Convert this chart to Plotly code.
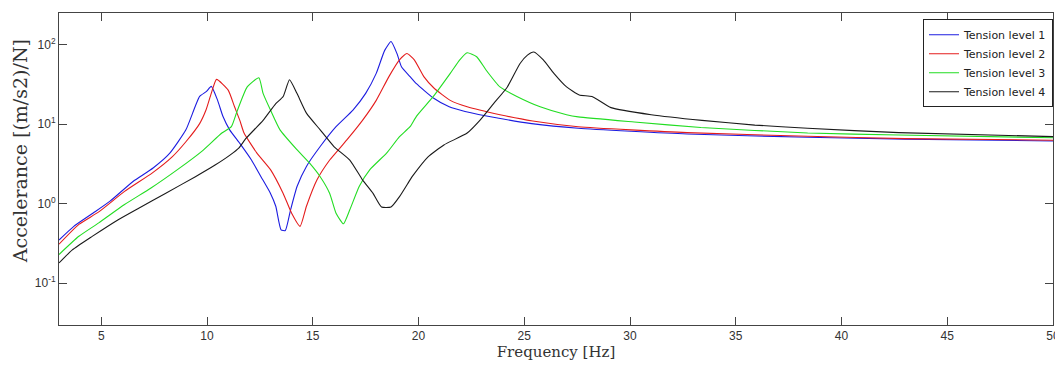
import plotly.graph_objects as go

# ---- data ----
f1 = [3.0, 3.7, 4.6, 5.4, 6.5, 7.45, 8.24, 9.0, 9.65, 9.96, 10.2, 10.5, 10.75, 11.07, 11.55,
      12.1, 12.55, 13.0, 13.25, 13.5, 13.7, 13.95, 14.26, 14.7, 15.35, 16.1, 16.9, 17.5, 18.0,
      18.4, 18.7, 18.98, 19.2, 19.6, 19.9, 20.7, 21.45, 22.2, 23.8, 25.35, 27.55, 32.7, 38.4,
      43.0, 50.0]
v1 = [0.35, 0.52, 0.76, 1.07, 1.91, 2.82, 4.33, 8.51, 22.4, 25.7, 30.0, 20.0, 12.6, 8.51, 5.75,
      3.55, 2.19, 1.35, 0.93, 0.47, 0.46, 0.84, 1.66, 2.95, 5.25, 9.33, 15.1, 24.5, 43.7,
      85.1, 110.0, 77.6, 52.5, 39.8, 32.4, 21.4, 16.6, 14.5, 11.9, 10.2, 8.91, 7.55, 6.87,
      6.5, 6.17]

f2 = [3.0, 3.94, 4.88, 6.1, 7.4, 8.35, 9.0, 9.65, 9.95, 10.2, 10.45, 11.0, 11.3, 11.55, 11.75,
      12.35, 13.0, 13.6, 14.0, 14.4, 14.7, 15.2, 15.8, 16.6, 17.35, 18.0, 18.6, 19.1, 19.45,
      19.8, 20.25, 20.75, 21.5, 22.3, 23.85, 25.4, 27.55, 32.7, 38.4, 43.0, 50.0]
v2 = [0.31, 0.55, 0.79, 1.43, 2.43, 3.89, 6.03, 10.2, 15.1, 24.5, 36.7, 26.9, 16.6, 11.2, 7.76,
      4.37, 2.69, 1.35, 0.76, 0.52, 0.93, 2.0, 3.55, 6.31, 11.2, 20.0, 39.8, 64.6, 77.6,
      64.6, 39.8, 28.2, 20.0, 16.6, 13.2, 11.0, 9.33, 7.85, 7.08, 6.6, 6.31]

f3 = [3.0, 3.94, 4.88, 6.1, 7.35, 8.6, 9.75, 10.7, 11.15, 11.4, 11.9, 12.45, 12.65, 13.0, 13.45,
      14.25, 14.85, 15.35, 15.8, 16.1, 16.45, 16.75, 17.2, 17.7, 18.5, 19.1, 19.6, 19.9, 20.7,
      21.5, 21.95, 22.3, 22.75, 23.2, 23.85, 24.65, 25.75, 27.0, 27.55, 30.2, 33.35, 38.4,
      42.7, 50.0]
v3 = [0.23, 0.39, 0.575, 0.977, 1.58, 2.69, 4.57, 7.76, 9.33, 14.1, 29.5, 38.5, 24.5, 15.1, 8.51,
      4.79, 3.24, 2.19, 1.35, 0.76, 0.56, 0.84, 1.66, 2.69, 4.37, 7.0, 9.33, 12.6, 22.4,
      43.7, 64.6, 79.4, 70.8, 47.9, 29.5, 22.4, 16.6, 13.2, 12.4, 10.7, 9.12, 7.76,
      7.33, 6.76]

f4 = [3.0, 3.63, 4.57, 5.8, 6.77, 8.03, 9.45, 10.4, 11.1, 11.5, 11.85, 12.65, 13.25, 13.6, 13.9,
      14.25, 14.7, 15.35, 16.0, 16.75, 17.35, 17.85, 18.25, 18.7, 19.1, 19.6, 19.75, 20.45,
      21.2, 22.3, 22.9, 23.55, 24.2, 24.8, 25.15, 25.45, 25.9, 26.4, 27.0, 27.6, 28.2, 29.1,
      31.0, 33.4, 35.9, 38.4, 42.7, 50.0]
v4 = [0.18, 0.263, 0.389, 0.631, 0.881, 1.35, 2.19, 3.09, 4.12, 5.01, 6.68, 11.2, 18.2, 22.4, 36.3,
      24.5, 13.8, 8.51, 5.25, 3.55, 2.0, 1.35, 0.91, 0.91, 1.23, 2.0, 2.29, 3.89,
      5.5, 7.76, 11.2, 18.2, 29.5, 58.2, 74.1, 81.3, 64.6, 43.7, 29.5, 23.4, 22.4, 16.2,
      13.2, 11.2, 9.77, 8.91, 7.85, 7.0]

names = ["Tension level 1", "Tension level 2", "Tension level 3", "Tension level 4"]
colors = ["#1c1ce0", "#e41c1c", "#22dd22", "#1a1a1a"]

x_ticks = [5, 10, 15, 20, 25, 30, 35, 40, 45, 50]
y_major = [0.1, 1, 10, 100]
y_major_text = ["10<sup>-1</sup>", "10<sup>0</sup>", "10<sup>1</sup>", "10<sup>2</sup>"]
y_minor = [0.04, 0.05, 0.06, 0.07, 0.08, 0.09,
           0.2, 0.3, 0.4, 0.5, 0.6, 0.7, 0.8, 0.9,
           2, 3, 4, 5, 6, 7, 8, 9,
           20, 30, 40, 50, 60, 70, 80, 90, 200]

fig = go.Figure()
for fx, vy, nm, col in zip([f1, f2, f3, f4], [v1, v2, v3, v4], names, colors):
    fig.add_trace(go.Scatter(x=fx, y=vy, mode="lines", name=nm,
                             line=dict(color=col, width=1.1, shape="spline", smoothing=0.5)))

axcol = "#444444"
tickfont = dict(family="Liberation Sans, Arial, sans-serif", size=12, color="#333333")
yr = [-1.525, 2.4]

fig.update_layout(
    template="none",
    width=1055, height=365,
    margin=dict(l=59, r=2, t=13, b=40),
    paper_bgcolor="white", plot_bgcolor="white",
    showlegend=True,
    legend=dict(x=1.0, y=0.98, xanchor="right", yanchor="top",
                bgcolor="white", bordercolor="#222222", borderwidth=1,
                font=dict(family="DejaVu Sans, sans-serif", size=11, color="#222222"),
                tracegroupgap=0),
    xaxis=dict(range=[3, 50], tickmode="array", tickvals=x_ticks,
               ticks="inside", ticklen=8, tickcolor=axcol, tickwidth=1,
               showline=True, linecolor=axcol, linewidth=1, mirror="ticks",
               showgrid=False, zeroline=False, automargin=False,
               ticklabeloverflow="allow",
               tickfont=tickfont,
               title=dict(text="Frequency [Hz]",
                          font=dict(family="DejaVu Serif, serif", size=15, color="#333333"),
                          standoff=2)),
    yaxis=dict(type="log", range=yr, tickmode="array", tickvals=y_major, ticktext=y_major_text,
               ticks="inside", ticklen=8, tickcolor=axcol, tickwidth=1,
               showline=True, linecolor=axcol, linewidth=1, mirror="ticks",
               showgrid=False, zeroline=False, automargin=False,
               tickfont=tickfont),
    yaxis2=dict(type="log", range=yr, overlaying="y", side="left", anchor="x",
                tickmode="array", tickvals=y_minor, showticklabels=False,
                ticks="inside", ticklen=4, tickcolor=axcol, tickwidth=1,
                showline=True, linecolor=axcol, linewidth=1, mirror="ticks",
                showgrid=False, zeroline=False, automargin=False),
    annotations=[dict(text="Accelerance [(m/s2)/N]", textangle=-90,
                      xref="paper", yref="paper", x=-0.039, y=0.558,
                      xanchor="center", yanchor="middle", showarrow=False,
                      font=dict(family="DejaVu Serif, serif", size=19, color="#333333"))],
)

fig.write_html("out.html")
